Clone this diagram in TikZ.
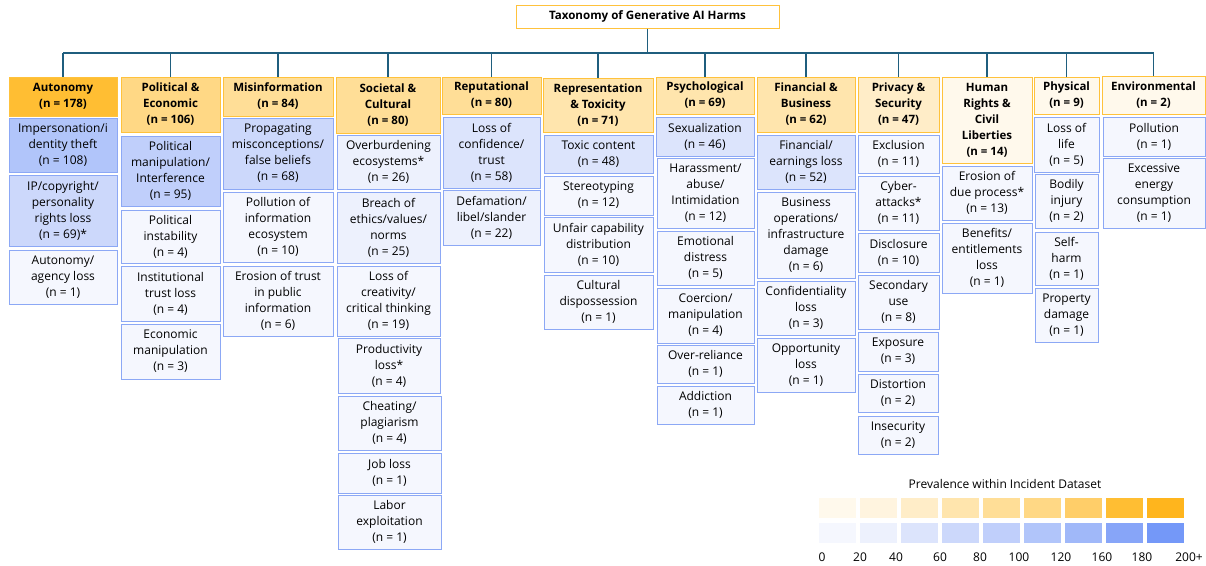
\documentclass[tikz,border=0pt]{standalone}
\usepackage{fontspec}
\setmainfont{Open Sans}
\newcommand*{\boxfont}{\fontsize{12}{16}\selectfont}
\newcommand*{\headfont}{\bfseries\fontsize{11.5}{16}\selectfont}
\definecolor{O1}{HTML}{FFF9EC}
\definecolor{O2}{HTML}{FFF4DF}
\definecolor{O3}{HTML}{FFEDC8}
\definecolor{O4}{HTML}{FFE5AD}
\definecolor{O5}{HTML}{FFDE97}
\definecolor{O6}{HTML}{FFD885}
\definecolor{O7}{HTML}{FFCE69}
\definecolor{O8}{HTML}{FFBE33}
\definecolor{O9}{HTML}{FFB51D}
\definecolor{B1}{HTML}{F5F7FE}
\definecolor{B2}{HTML}{EDF1FD}
\definecolor{B3}{HTML}{DCE4FC}
\definecolor{B4}{HTML}{CCD8FB}
\definecolor{B5}{HTML}{C0CFFB}
\definecolor{B6}{HTML}{B1C5FA}
\definecolor{B7}{HTML}{A0B8F9}
\definecolor{B8}{HTML}{87A5F8}
\definecolor{B9}{HTML}{7498F8}
\definecolor{hline}{HTML}{FFC23C}
\definecolor{bline}{HTML}{8CA8F5}
\definecolor{wire}{HTML}{1F5E7E}
\usepackage{tikz}
\tikzstyle{base}=[x=1pt, y=-1pt]
\tikzstyle{head}=[draw=hline, line width=1pt, inner sep=0pt, align=center, font=\headfont]
\tikzstyle{harm}=[draw=bline, line width=1pt, inner sep=0pt, align=center, font=\boxfont]
\tikzstyle{wires}=[draw=wire, line width=1.5pt]
% box from its corners: style, name, x1, y1, x2, y2, text
\newcommand{\cell}[7]{\node[#1, minimum width={#5-#3}, minimum height={#6-#4}] (#2) at ({(#3+#5)/2},{(#4+#6)/2}) {#7};}

\begin{document}
\begin{tikzpicture}[base]
    \useasboundingbox (0,0) rectangle (1206,565);
    \cell{head, fill=white, font=\bfseries\fontsize{11.6}{14}\selectfont}{title}{516}{5}{779}{28}{Taxonomy of Generative AI Harms}

    % categories
    \cell{head, fill=O8}{aut}{9}{77}{117}{116}{Autonomy\\(n = 178)}
    \cell{head, fill=O6}{pol}{121}{77}{220}{132}{Political \&\\Economic\\(n = 106)}
    \cell{head, fill=O5}{mis}{223}{77}{333}{116}{Misinformation\\(n = 84)}
    \cell{head, fill=O5}{soc}{336}{77}{440}{133}{Societal \&\\Cultural\\(n = 80)}
    \cell{head, fill=O5}{rep}{442}{77}{541}{114}{Reputational\\(n = 80)}
    \cell{head, fill=O4}{tox}{543}{78}{653}{132}{Representation\\\& Toxicity\\(n = 71)}
    \cell{head, fill=O4}{psy}{656}{77}{754}{114}{Psychological\\(n = 69)}
    \cell{head, fill=O4}{fin}{757}{77}{855}{132}{Financial \&\\Business\\(n = 62)}
    \cell{head, fill=O3}{pri}{858}{77}{939}{132}{Privacy \&\\Security\\(n = 47)}
    \cell{head, fill=O1}{hum}{942}{77}{1032}{163}{Human\\Rights \&\\Civil\\Liberties\\(n = 14)}
    \cell{head, fill=O1}{phy}{1034}{77}{1099}{114}{Physical\\(n = 9)}
    \cell{head, fill=O1}{env}{1102}{76}{1205}{114}{Environmental\\(n = 2)}

    % harms
    \cell{harm, fill=B6}{aut1}{9}{118}{117}{172}{Impersonation/i\\dentity theft\\(n = 108)}
    \cell{harm, fill=B4}{aut2}{9}{175}{117}{246}{IP/copyright/\\personality\\rights loss\\(n = 69)*}
    \cell{harm, fill=B1}{aut3}{9}{250}{117}{304}{Autonomy/\\agency loss\\(n = 1)}

    \cell{harm, fill=B5}{pol1}{121}{136}{220}{206}{Political\\manipulation/\\Interference\\(n = 95)}
    \cell{harm, fill=B1}{pol2}{121}{210}{220}{263}{Political\\instability\\(n = 4)}
    \cell{harm, fill=B1}{pol3}{121}{266}{220}{321}{Institutional\\trust loss\\(n = 4)}
    \cell{harm, fill=B1}{pol4}{121}{324}{220}{379}{Economic\\manipulation\\(n = 3)}

    \cell{harm, fill=B4}{mis1}{223}{118}{333}{189}{Propagating\\misconceptions/\\false beliefs\\(n = 68)}
    \cell{harm, fill=B1}{mis2}{223}{192}{333}{262}{Pollution of\\information\\ecosystem\\(n = 10)}
    \cell{harm, fill=B1}{mis3}{223}{266}{333}{336}{Erosion of trust\\in public\\information\\(n = 6)}

    \cell{harm, fill=B2}{soc1}{337}{135}{440}{189}{Overburdening\\ecosystems*\\(n = 26)}
    \cell{harm, fill=B2}{soc2}{337}{192}{440}{263}{Breach of\\ethics/values/\\norms\\(n = 25)}
    \cell{harm, fill=B1}{soc3}{337}{266}{440}{336}{Loss of\\creativity/\\critical thinking\\(n = 19)}
    \cell{harm, fill=B1}{soc4}{338}{338}{440}{393}{Productivity\\loss*\\(n = 4)}
    \cell{harm, fill=B1}{soc5}{338}{396}{441}{450}{Cheating/\\plagiarism\\(n = 4)}
    \cell{harm, fill=B1}{soc6}{338}{453}{441}{493}{Job loss\\(n = 1)}
    \cell{harm, fill=B1}{soc7}{338}{495}{441}{549}{Labor\\exploitation\\(n = 1)}

    \cell{harm, fill=B3}{rep1}{443}{117}{540}{188}{Loss of\\confidence/\\trust\\(n = 58)}
    \cell{harm, fill=B2}{rep2}{443}{190}{540}{245}{Defamation/\\libel/slander\\(n = 22)}

    \cell{harm, fill=B3}{tox1}{544}{135}{653}{173}{Toxic content\\(n = 48)}
    \cell{harm, fill=B1}{tox2}{544}{176}{653}{215}{Stereotyping\\(n = 12)}
    \cell{harm, fill=B1}{tox3}{544}{217}{653}{272}{Unfair capability\\distribution\\(n = 10)}
    \cell{harm, fill=B1}{tox4}{544}{275}{653}{329}{Cultural\\dispossession\\(n = 1)}

    \cell{harm, fill=B3}{psy1}{656}{117}{754}{156}{Sexualization\\(n = 46)}
    \cell{harm, fill=B1}{psy2}{657}{158}{754}{228}{Harassment/\\abuse/\\Intimidation\\(n = 12)}
    \cell{harm, fill=B1}{psy3}{657}{231}{754}{285}{Emotional\\distress\\(n = 5)}
    \cell{harm, fill=B1}{psy4}{657}{288}{754}{343}{Coercion/\\manipulation\\(n = 4)}
    \cell{harm, fill=B1}{psy5}{657}{345}{754}{383}{Over-reliance\\(n = 1)}
    \cell{harm, fill=B1}{psy6}{657}{386}{754}{424}{Addiction\\(n = 1)}

    \cell{harm, fill=B3}{fin1}{757}{135}{855}{189}{Financial/\\earnings loss\\(n = 52)}
    \cell{harm, fill=B1}{fin2}{757}{192}{855}{278}{Business\\operations/\\infrastructure\\damage\\(n = 6)}
    \cell{harm, fill=B1}{fin3}{757}{281}{855}{335}{Confidentiality\\loss\\(n = 3)}
    \cell{harm, fill=B1}{fin4}{757}{338}{855}{392}{Opportunity\\loss\\(n = 1)}

    \cell{harm, fill=B1}{pri1}{858}{135}{939}{173}{Exclusion\\(n = 11)}
    \cell{harm, fill=B1}{pri2}{858}{176}{939}{230}{Cyber-\\attacks*\\(n = 11)}
    \cell{harm, fill=B1}{pri3}{858}{233}{939}{272}{Disclosure\\(n = 10)}
    \cell{harm, fill=B1}{pri4}{858}{275}{939}{329}{Secondary\\use\\(n = 8)}
    \cell{harm, fill=B1}{pri5}{858}{332}{938}{371}{Exposure\\(n = 3)}
    \cell{harm, fill=B1}{pri6}{858}{374}{938}{412}{Distortion\\(n = 2)}
    \cell{harm, fill=B1}{pri7}{858}{416}{938}{454}{Insecurity\\(n = 2)}

    \cell{harm, fill=B1}{hum1}{942}{166}{1032}{220}{Erosion of\\due process*\\(n = 13)}
    \cell{harm, fill=B1}{hum2}{942}{223}{1032}{293}{Benefits/\\entitlements\\loss\\(n = 1)}

    \cell{harm, fill=B1}{phy1}{1034}{117}{1099}{172}{Loss of\\life\\(n = 5)}
    \cell{harm, fill=B1}{phy2}{1035}{174}{1098}{228}{Bodily\\injury\\(n = 2)}
    \cell{harm, fill=B1}{phy3}{1035}{232}{1098}{285}{Self-\\harm\\(n = 1)}
    \cell{harm, fill=B1}{phy4}{1035}{288}{1098}{342}{Property\\damage\\(n = 1)}

    \cell{harm, fill=B1}{env1}{1103}{117}{1205}{156}{Pollution\\(n = 1)}
    \cell{harm, fill=B1}{env2}{1103}{158}{1205}{228}{Excessive\\energy\\consumption\\(n = 1)}

    % tree
    \coordinate (bus) at (0,53);
    \draw[wires] (title.south) -- (title.south |- bus);
    \draw[wires] (aut.north |- bus) -- (env.north |- bus);
    \foreach \h in {aut,pol,mis,soc,rep,tox,psy,fin,pri,hum,phy,env}
        \draw[wires, line width=1.2pt] (\h.north) -- (\h.north |- bus);

    % legend
    \node[font=\boxfont] (legend) at (1005,484) {Prevalence within Incident Dataset};
    \foreach \i in {1,...,9} {
        \fill[fill=O\i] ({819+41*(\i-1)},498) rectangle ++(36.5,20);
        \fill[fill=B\i] ({819+41*(\i-1)},523) rectangle ++(36.5,20);
    }
    \foreach \v/\x [count=\k] in {0/822,20/860,40/896,60/940,80/980,100/1019,120/1061,160/1102,180/1142,200+/1189}
        \node[font=\boxfont] (tick\k) at (\x,557) {\v};
\end{tikzpicture}
\end{document}
